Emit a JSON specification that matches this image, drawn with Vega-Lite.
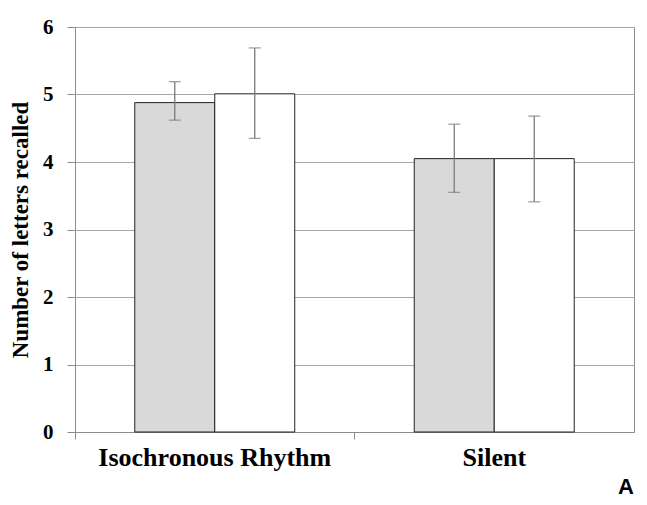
{
  "$schema": "https://vega.github.io/schema/vega-lite/v6.json",
  "width": 559,
  "height": 405,
  "autosize": "none",
  "padding": {"left": 75, "top": 27, "right": 13, "bottom": 73},
  "background": "white",
  "config": {
    "view": {"stroke": "#8c8c8c", "strokeWidth": 1},
    "font": "Liberation Serif"
  },
  "title": {
    "text": "A",
    "orient": "bottom",
    "anchor": "end",
    "font": "Liberation Sans",
    "fontSize": 22,
    "fontWeight": "bold",
    "color": "#000000",
    "offset": 7
  },
  "data": {
    "values": [
      {"condition": "Isochronous Rhythm", "series": "S1", "mean": 4.88, "lo": 4.62, "hi": 5.19},
      {"condition": "Isochronous Rhythm", "series": "S2", "mean": 5.01, "lo": 4.35, "hi": 5.69},
      {"condition": "Silent", "series": "S1", "mean": 4.05, "lo": 3.55, "hi": 4.56},
      {"condition": "Silent", "series": "S2", "mean": 4.05, "lo": 3.41, "hi": 4.68}
    ]
  },
  "encoding": {
    "x": {
      "field": "condition",
      "type": "nominal",
      "sort": null,
      "scale": {"paddingInner": 0.4276, "paddingOuter": 0.2138},
      "axis": {
        "title": null,
        "labelAngle": 0,
        "labelLimit": 0,
        "labelFont": "Liberation Serif",
        "labelFontSize": 26,
        "labelFontWeight": "bold",
        "labelColor": "#000000",
        "labelPadding": 5,
        "tickSize": 7,
        "tickColor": "#8c8c8c",
        "domainColor": "#8c8c8c",
        "bandPosition": -0.3734
      }
    },
    "xOffset": {"field": "series", "type": "nominal", "scale": {"paddingInner": 0, "paddingOuter": 0}}
  },
  "layer": [
    {
      "mark": {"type": "bar", "stroke": "#222222", "strokeWidth": 1},
      "encoding": {
        "y": {
          "field": "mean",
          "type": "quantitative",
          "scale": {"domain": [0, 6], "nice": false},
          "axis": {
            "title": "Number of letters recalled",
            "titleFont": "Liberation Serif",
            "titleFontSize": 23,
            "titleFontWeight": "bold",
            "titleColor": "#000000",
            "titlePadding": 10,
            "values": [0, 1, 2, 3, 4, 5, 6],
            "format": "d",
            "labelFont": "Liberation Serif",
            "labelFontSize": 21,
            "labelFontWeight": "bold",
            "labelColor": "#000000",
            "labelPadding": 14,
            "tickSize": 8,
            "tickColor": "#8c8c8c",
            "domainColor": "#8c8c8c",
            "grid": true,
            "gridColor": "#a6a6a6",
            "gridWidth": 1
          }
        },
        "fill": {
          "field": "series",
          "type": "nominal",
          "scale": {"domain": ["S1", "S2"], "range": ["#d9d9d9", "#ffffff"]},
          "legend": null
        }
      }
    },
    {
      "mark": {"type": "rule", "color": "#7a7a7a", "strokeWidth": 1.3},
      "encoding": {
        "y": {"field": "lo", "type": "quantitative"},
        "y2": {"field": "hi"}
      }
    },
    {
      "mark": {"type": "tick", "color": "#7a7a7a", "thickness": 1.3, "size": 12, "orient": "horizontal"},
      "encoding": {"y": {"field": "lo", "type": "quantitative"}}
    },
    {
      "mark": {"type": "tick", "color": "#7a7a7a", "thickness": 1.3, "size": 12, "orient": "horizontal"},
      "encoding": {"y": {"field": "hi", "type": "quantitative"}}
    }
  ]
}
